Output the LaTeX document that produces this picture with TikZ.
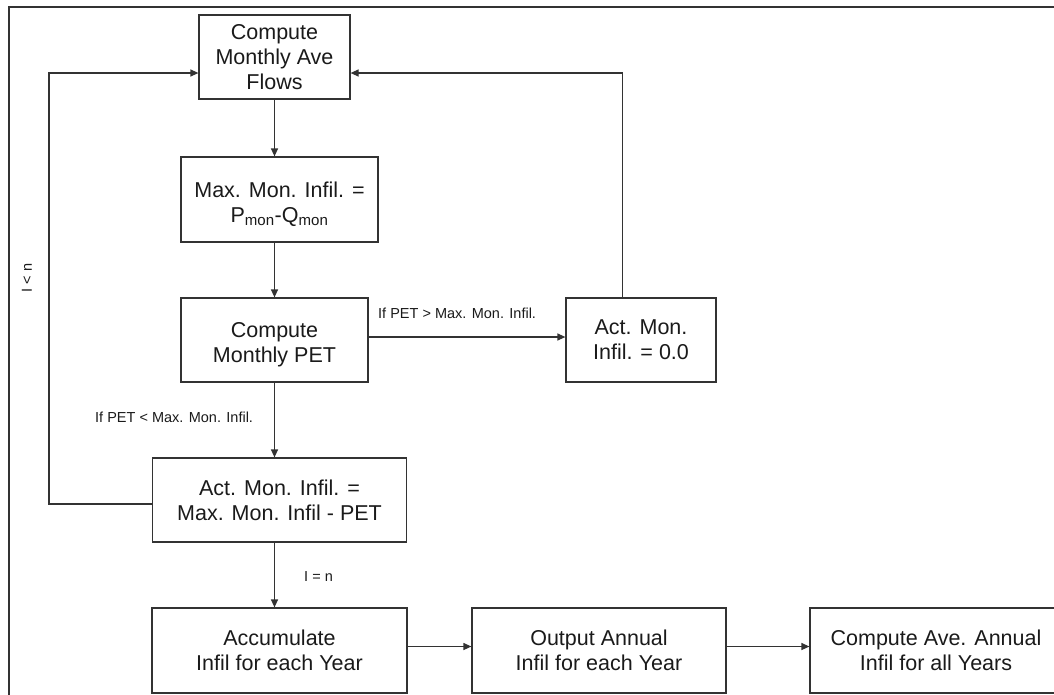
\documentclass[tikz,border=0pt]{standalone}
\usepackage{fontspec}
\setmainfont{Liberation Sans}
\usetikzlibrary{arrows.meta,calc}
\definecolor{lineclr}{HTML}{333333}
\definecolor{txtclr}{HTML}{1A1A1A}
\begin{document}
\begin{tikzpicture}[x=1pt,y=-1pt,
  box/.style={draw=lineclr, line width=1.2pt, align=center, inner sep=0pt,
    font=\fontsize{21.5}{25}\selectfont, text=txtclr},
  arr/.style={draw=lineclr, line width=1.2pt, -{Triangle[length=8pt,width=7pt]}},
  lbl/.style={font=\fontsize{14.5}{17}\selectfont, text=txtclr, inner sep=0pt}]
\path[use as bounding box] (0,0) rectangle (1054,694);
\clip (0,0) rectangle (1054,694);
% frame
\draw[lineclr, line width=1.2pt] (9,700) -- (9,7) -- (1060,7);
% boxes
\node[box, minimum width=151pt, minimum height=84pt] (flows) at (274.5,57) {Compute\\Monthly Ave\\Flows};
\node[box, minimum width=197pt, minimum height=85pt] (maxinf) at (279.5,199.5) {\mbox{}\\Max. Mon. Infil. =\\P\textsubscript{mon}-Q\textsubscript{mon}};
\node[box, minimum width=187pt, minimum height=84pt] (pet) at (274.5,340) {\mbox{}\\Compute\\Monthly PET};
\node[box, minimum width=150pt, minimum height=84pt] (zero) at (641,340) {Act. Mon.\\Infil. = 0.0};
\node[box, minimum width=254pt, minimum height=84pt] (act) at (279.5,500) {Act. Mon. Infil. =\\Max. Mon. Infil - PET};
\node[box, minimum width=255pt, minimum height=85pt] (accum) at (279.5,650.5) {Accumulate\\Infil for each Year};
\node[box, minimum width=254pt, minimum height=85pt] (out) at (599,650.5) {Output Annual\\Infil for each Year};
\node[box, minimum width=252pt, minimum height=85pt] (ave) at (936,650.5) {Compute Ave. Annual\\Infil for all Years};
% helper coordinates
\coordinate (a1) at ($(pet.east)+(0,-3)$);
\coordinate (r1) at (622.5,73);
\coordinate (l1) at (49,73);
\coordinate (l0) at (49,504);
\coordinate (h) at (0,646.5);
% connectors
\draw[arr] (flows.south) -- (flows.south |- maxinf.north);
\draw[arr] (flows.south |- maxinf.south) -- (pet.north);
\draw[arr] (a1) -- (a1 -| zero.west);
\draw[arr] (r1 |- zero.north) -- (r1) -- (r1 -| flows.east);
\draw[arr] (pet.south) -- (pet.south |- act.north);
\draw[arr] (l0 -| act.west) -- (l0) -- (l1) -- (l1 -| flows.west);
\draw[arr] (pet.south |- act.south) -- (pet.south |- accum.north);
\draw[arr] (h -| accum.east) -- (h -| out.west);
\draw[arr] (h -| out.east) -- (h -| ave.west);
% labels
\node[lbl, anchor=west] (lgt) at (378,313.5) {If PET > Max. Mon. Infil.};
\node[lbl, anchor=west] (llt) at (95,417.5) {If PET < Max. Mon. Infil.};
\node[lbl, anchor=west] (leq) at (304,577) {I = n};
\node[lbl, rotate=90] (lln) at (27,278) {I < n};
\end{tikzpicture}
\end{document}
